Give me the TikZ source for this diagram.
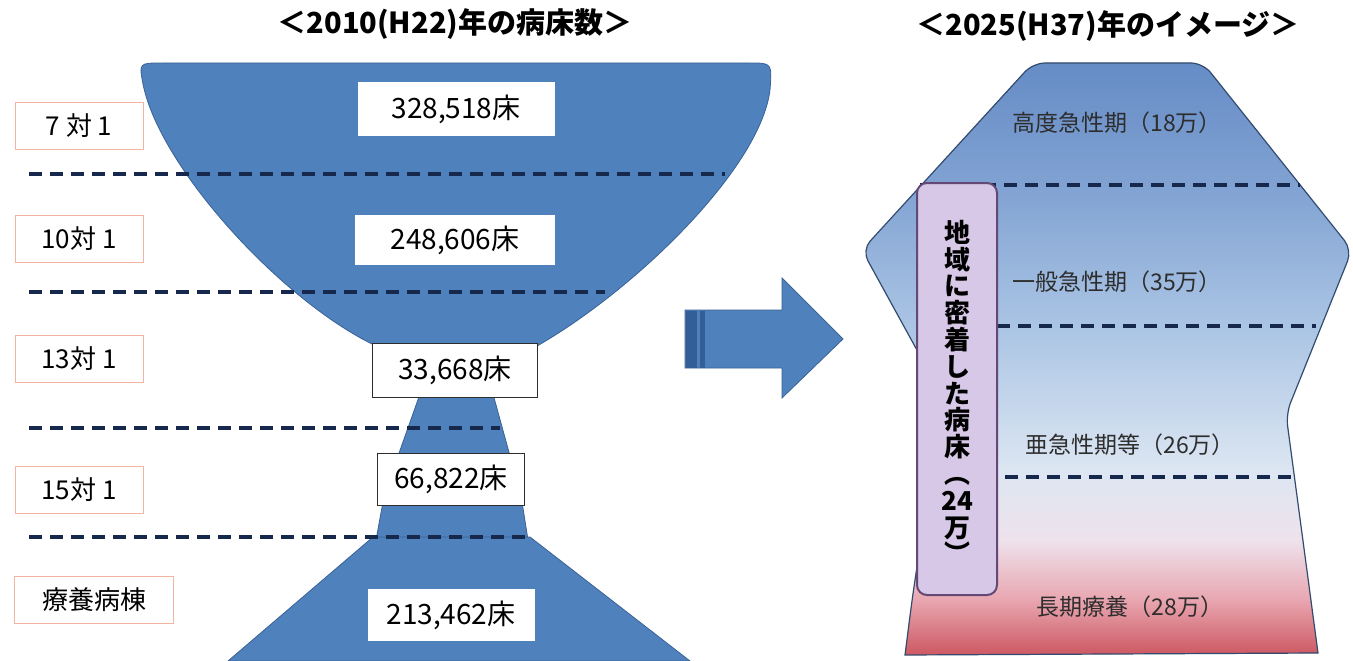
\documentclass[tikz,border=0pt]{standalone}
\usepackage{fontspec}
\setmainfont{Noto Sans CJK JP}
\definecolor{bowlblue}{RGB}{79,129,189}
\definecolor{bowledge}{RGB}{58,98,150}
\definecolor{stripe}{RGB}{52,94,150}
\definecolor{dashcol}{RGB}{22,40,76}
\definecolor{lblborder}{RGB}{240,180,160}
\definecolor{txtgray}{RGB}{45,45,45}
\definecolor{purfill}{RGB}{214,200,230}
\definecolor{purline}{RGB}{100,72,118}
\definecolor{shapeedge}{RGB}{50,75,110}
\definecolor{pkA}{RGB}{205,88,98}
\definecolor{pkB}{RGB}{232,165,175}
\definecolor{pkC}{RGB}{238,226,236}
\definecolor{blA}{RGB}{220,230,242}
\definecolor{blB}{RGB}{170,196,228}
\definecolor{blC}{RGB}{128,162,210}
\definecolor{blD}{RGB}{102,140,198}
\pgfdeclareverticalshading{rshade}{100bp}{color(0bp)=(pkA); color(25bp)=(pkA); color(29.6bp)=(pkB); color(34.7bp)=(pkC); color(40.6bp)=(blA); color(52.8bp)=(blB); color(64.7bp)=(blC); color(75bp)=(blD); color(100bp)=(blD)}
\tikzset{
  bluefill/.style={fill=bowlblue, draw=bowledge, line width=0.8pt},
  valbox/.style={fill=white, inner sep=0pt, font=\fontsize{28}{30}\selectfont, text=black},
  valframe/.style={valbox, draw=txtgray, line width=0.8pt},
  lblbox/.style={fill=white, draw=lblborder, line width=1pt, inner sep=0pt, minimum height=47pt, font=\fontsize{26}{28}\selectfont, text=black},
  dashline/.style={draw=dashcol, line width=3.2pt, dash pattern=on 13pt off 8pt},
  rtext/.style={font=\fontsize{23}{25}\selectfont, text=txtgray},
  titletext/.style={font=\fontsize{29}{31}\selectfont\bfseries, text=black}
}
\begin{document}
\begin{tikzpicture}[x=1pt,y=-1pt]
\useasboundingbox[fill=white] (0,0) rectangle (1353,661);
% titles
\node[titletext] (t1) at (455,24) {＜2010(H22)年の病床数＞};
\node[titletext] (t2) at (1108,26) {＜2025(H37)年のイメージ＞};
% left bowl
\path[bluefill] (143,84) .. controls (139,63) .. (162,63) -- (750,63) .. controls (772,63) .. (770,90)
  .. controls (760,170) and (630,295) .. (530,350) -- (385,350)
  .. controls (290,310) and (160,170) .. (143,84) -- cycle;
\path[bluefill] (420,394) -- (493,394) -- (510,456) -- (398,456) -- cycle;
\path[bluefill] (383,502) -- (522,502) -- (528,540) -- (376,540) -- cycle;
\path[bluefill] (373,537) -- (530,537) -- (690,661) -- (228,661) -- cycle;
% left dashed lines
\draw[dashline] (29,174) -- (725,174);
\draw[dashline] (29,292) -- (605,292);
\draw[dashline] (29,428) -- (500,428);
\draw[dashline] (29,537) -- (525,537);
% value boxes
\node[valbox, minimum width=197pt, minimum height=53pt] (v1) at (456,109) {328,518床};
\node[valbox, minimum width=200pt, minimum height=50pt] (v2) at (455,240) {248,606床};
\node[valframe, minimum width=165pt, minimum height=54pt] (v3) at (455,370) {33,668床};
\node[valframe, minimum width=147pt, minimum height=52pt] (v4) at (451,479) {66,822床};
\node[valbox, minimum width=167pt, minimum height=52pt] (v5) at (451,615) {213,462床};
% left labels
\node[lblbox, minimum width=128pt] (l1) at (79,126) {7 対 1};
\node[lblbox, minimum width=128pt] (l2) at (79,239) {10対 1};
\node[lblbox, minimum width=128pt] (l3) at (79,359) {13対 1};
\node[lblbox, minimum width=128pt] (l4) at (79,490) {15対 1};
\node[lblbox, minimum width=159pt] (l5) at (94,600) {療養病棟};
% arrow
\path[bluefill, draw=bowledge] (685,310) -- (782,310) -- (782,278) -- (843,339) -- (782,398) -- (782,368) -- (685,368) -- cycle;
\fill[stripe] (685.5,310.5) rectangle (697,367.5);
\fill[stripe] (700,310.5) rectangle (705,367.5);
% right shape
\path[shading=rshade, draw=shapeedge, line width=1.2pt, rounded corners=12pt]
  (1033,63) -- (1203,63) -- (1352,250) -- (1286,414) [sharp corners] -- (1318,653) -- (905,655)
  .. controls (912,600) .. (918,560) -- (918,352) [rounded corners=12pt] -- (862,250) -- cycle;
% right dashed lines
\draw[dashline] (920,185) -- (1300,185);
\draw[dashline] (997,326) -- (1316,326);
\draw[dashline] (1005,477) -- (1297,477);
% right texts
\node[rtext] (r1) at (1117,123) {高度急性期（18万）};
\node[rtext] (r2) at (1117,282) {一般急性期（35万）};
\node[rtext] (r3) at (1130,445) {亜急性期等（26万）};
\node[rtext] (r4) at (1130,607) {長期療養（28万）};
% purple box
\node[fill=purfill, draw=purline, line width=2pt, rounded corners=10pt, minimum width=80pt, minimum height=412pt, inner sep=0pt] (pb) at (957,389) {};
\node[font=\fontsize{26}{26.8}\selectfont\bfseries, text=black, align=center, inner sep=0pt] (pt) at (957,392)
  {地\\域\\に\\密\\着\\し\\た\\病\\床\\︵\\24\\万\\︶};
\end{tikzpicture}
\end{document}
